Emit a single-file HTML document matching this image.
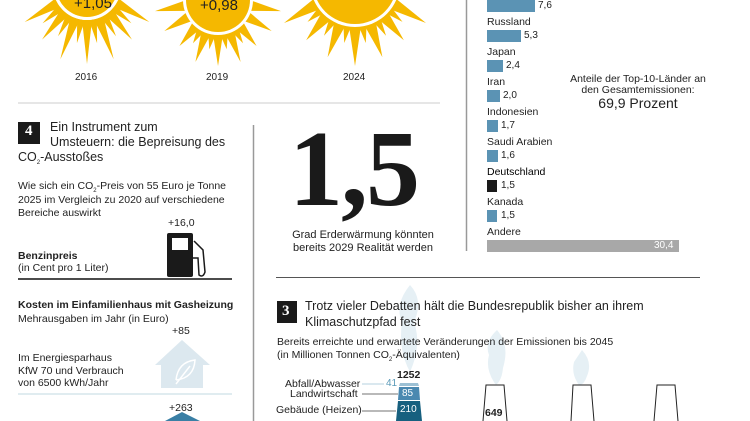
<!DOCTYPE html>
<html><head><meta charset="utf-8"><style>
body{margin:0;width:750px;height:421px;overflow:hidden;background:#fff;font-family:"Liberation Sans",sans-serif;color:#222;position:relative}
.t{position:absolute;white-space:nowrap;line-height:1}
.s{font-size:6px;position:relative;top:3px;line-height:0}
</style></head><body>
<svg width="750" height="421" style="position:absolute;left:0;top:0">
<g transform="translate(87,-14)">
<g fill="#f5b800">
<polygon points="-5,34 5,34 0,78"/><polygon points="-5,34 5,34 0,78" transform="rotate(20)"/><polygon points="-5,34 5,34 0,78" transform="rotate(-20)"/><polygon points="-5,34 5,34 0,70" transform="rotate(40)"/><polygon points="-5,34 5,34 0,70" transform="rotate(-40)"/><polygon points="-5,34 5,34 0,72" transform="rotate(60)"/><polygon points="-5,34 5,34 0,72" transform="rotate(-60)"/><polygon points="-5,34 5,34 0,64" transform="rotate(80)"/><polygon points="-5,34 5,34 0,64" transform="rotate(-80)"/><polygon points="-4,34 4,34 0,58" transform="rotate(10)"/><polygon points="-4,34 4,34 0,58" transform="rotate(-10)"/><polygon points="-4,34 4,34 0,58" transform="rotate(30)"/><polygon points="-4,34 4,34 0,58" transform="rotate(-30)"/><polygon points="-4,34 4,34 0,58" transform="rotate(50)"/><polygon points="-4,34 4,34 0,58" transform="rotate(-50)"/></g>
<circle r="34" fill="#fff"/><circle r="31" fill="#f5b800"/></g>
<g transform="translate(218,0)">
<g fill="#f5b800">
<polygon points="-5,34 5,34 0,66"/><polygon points="-5,34 5,34 0,66" transform="rotate(20)"/><polygon points="-5,34 5,34 0,66" transform="rotate(-20)"/><polygon points="-5,34 5,34 0,60" transform="rotate(40)"/><polygon points="-5,34 5,34 0,60" transform="rotate(-40)"/><polygon points="-5,34 5,34 0,62" transform="rotate(60)"/><polygon points="-5,34 5,34 0,62" transform="rotate(-60)"/><polygon points="-5,34 5,34 0,64" transform="rotate(80)"/><polygon points="-5,34 5,34 0,64" transform="rotate(-80)"/><polygon points="-4,34 4,34 0,50" transform="rotate(10)"/><polygon points="-4,34 4,34 0,50" transform="rotate(-10)"/><polygon points="-4,34 4,34 0,50" transform="rotate(30)"/><polygon points="-4,34 4,34 0,50" transform="rotate(-30)"/></g>
<circle r="35" fill="#fff"/><circle r="32" fill="#f5b800"/></g>
<g transform="translate(355,-18)">
<g fill="#f5b800">
<polygon points="-6,44 6,44 0,84"/><polygon points="-6,44 6,44 0,80" transform="rotate(20)"/><polygon points="-6,44 6,44 0,80" transform="rotate(-20)"/><polygon points="-6,44 6,44 0,76" transform="rotate(40)"/><polygon points="-6,44 6,44 0,76" transform="rotate(-40)"/><polygon points="-6,44 6,44 0,82" transform="rotate(60)"/><polygon points="-6,44 6,44 0,82" transform="rotate(-60)"/><polygon points="-6,44 6,44 0,74" transform="rotate(80)"/><polygon points="-6,44 6,44 0,74" transform="rotate(-80)"/><polygon points="-4,44 4,44 0,62" transform="rotate(10)"/><polygon points="-4,44 4,44 0,62" transform="rotate(-10)"/><polygon points="-4,44 4,44 0,62" transform="rotate(30)"/><polygon points="-4,44 4,44 0,62" transform="rotate(-30)"/><polygon points="-4,44 4,44 0,62" transform="rotate(50)"/><polygon points="-4,44 4,44 0,62" transform="rotate(-50)"/></g>
<circle r="45" fill="#fff"/><circle r="42" fill="#f5b800"/></g>
<line x1="18" y1="103" x2="440" y2="103" stroke="#ddd" stroke-width="1.5"/>
<line x1="466.5" y1="0" x2="466.5" y2="251" stroke="#999" stroke-width="1.5"/>
<line x1="253.5" y1="125" x2="253.5" y2="421" stroke="#999" stroke-width="1.5"/>
<line x1="276" y1="277.5" x2="700" y2="277.5" stroke="#555" stroke-width="1"/>
<line x1="18" y1="279" x2="232" y2="279" stroke="#111" stroke-width="1.5"/>
<line x1="18" y1="394" x2="232" y2="394" stroke="#d5e5ec" stroke-width="1.5"/>
<g fill="#5b93b4">
<rect x="487" y="0" width="48" height="12"/>
<rect x="487" y="30" width="34" height="12"/>
<rect x="487" y="60" width="16" height="12"/>
<rect x="487" y="90" width="13" height="12"/>
<rect x="487" y="120" width="11" height="12"/>
<rect x="487" y="150" width="11" height="12"/>
<rect x="487" y="210" width="10" height="12"/></g>
<rect x="487" y="180" width="10" height="12" fill="#1a1a1a"/>
<rect x="487" y="240" width="192" height="12" fill="#a8a8a8"/>
<rect x="167" y="233" width="26" height="44" rx="2" fill="#1a1a1a"/>
<rect x="172" y="238" width="16" height="12" fill="#fff"/>
<path d="M194 241 L203 250 L205 272 Q203 278 199 275 L198 258 L193 258" fill="none" stroke="#1a1a1a" stroke-width="1.5"/>
<path d="M155 365 L182 340 L210 365 L203 365 L203 388 L161 388 L161 365 Z" fill="#dce8ef"/>
<path d="M176 380 Q178 362 195 360 Q194 378 176 380 M176 384 L190 366" fill="none" stroke="#fff" stroke-width="1.5"/>
<path d="M165 421 L182 412 L200 421 Z" fill="#3a7fa5"/>
<rect x="18" y="122" width="22" height="22" fill="#1a1a1a"/>
<rect x="277" y="301" width="20" height="22" fill="#1a1a1a"/>
<g fill="#e6f0f5">
<path d="M410 285 Q424 300 414 322 Q422 345 410 372 Q398 350 402 322 Q394 305 410 285Z"/>
<path d="M497 330 Q510 345 503 368 Q502 380 496 385 Q485 370 489 355 Q484 342 497 330Z"/>
<path d="M582 350 Q593 362 587 376 Q584 385 579 385 Q571 374 574 362Z"/>
</g>
<g fill="none" stroke="#222" stroke-width="1">
<path d="M483 421 L486 385 L504 385 L507 421"/>
<path d="M571 421 L573 385 L591 385 L594 421"/>
<path d="M654 421 L657 385 L675 385 L678 421"/></g>
<path d="M400 383 L418 383 L419 386 L399 386Z" fill="#9cc0d4"/>
<path d="M399 387 L419 387 L420 400 L398 400Z" fill="#4a88b0"/>
<path d="M398 401 L420 401 L422 421 L396 421Z" fill="#17607f"/>
<g stroke="#444" stroke-width="0.8">
<line x1="362" y1="384" x2="384" y2="384" stroke="#9cc0d4"/>
<line x1="362" y1="394" x2="398" y2="394"/>
<line x1="362" y1="411" x2="396" y2="411"/></g>
</svg>
<div class="t" style="left:74px;top:-4px;font-size:15px">+1,05</div>
<div class="t" style="left:200px;top:-2px;font-size:15px">+0,98</div>
<div class="t" style="left:75px;top:73px;font-size:10px">2016</div>
<div class="t" style="left:206px;top:73px;font-size:10px">2019</div>
<div class="t" style="left:343px;top:73px;font-size:10px">2024</div>
<div class="t" style="left:538px;top:1px;font-size:10px">7,6</div>
<div class="t" style="left:487px;top:17px;font-size:10.5px">Russland</div>
<div class="t" style="left:524px;top:31px;font-size:10px">5,3</div>
<div class="t" style="left:487px;top:47px;font-size:10.5px">Japan</div>
<div class="t" style="left:506px;top:61px;font-size:10px">2,4</div>
<div class="t" style="left:487px;top:77px;font-size:10.5px">Iran</div>
<div class="t" style="left:503px;top:91px;font-size:10px">2,0</div>
<div class="t" style="left:487px;top:107px;font-size:10.5px">Indonesien</div>
<div class="t" style="left:501px;top:121px;font-size:10px">1,7</div>
<div class="t" style="left:487px;top:137px;font-size:10.5px">Saudi Arabien</div>
<div class="t" style="left:501px;top:151px;font-size:10px">1,6</div>
<div class="t" style="left:487px;top:167px;font-size:10.5px;color:#000">Deutschland</div>
<div class="t" style="left:501px;top:181px;font-size:10px">1,5</div>
<div class="t" style="left:487px;top:197px;font-size:10.5px">Kanada</div>
<div class="t" style="left:501px;top:211px;font-size:10px">1,5</div>
<div class="t" style="left:487px;top:227px;font-size:10.5px">Andere</div>
<div class="t" style="left:654px;top:241px;font-size:10px;color:#fff">30,4</div>
<div class="t" style="left:563px;top:74px;font-size:10.5px;text-align:center;width:150px;line-height:11px;white-space:normal">Anteile der Top-10-Länder an den Gesamtemissionen:<br><span style="font-size:14px;line-height:15px">69,9 Prozent</span></div>
<div class="t" style="left:289px;top:116px;font-family:'Liberation Serif',serif;font-weight:bold;font-size:108px;letter-spacing:-2px;color:#1a1a1a">1,5</div>
<div class="t" style="left:278px;top:229px;width:170px;text-align:center;font-size:11px;line-height:13px">Grad Erderwärmung könnten<br>bereits 2029 Realität werden</div>
<div class="t" style="left:25px;top:124px;font-family:'Liberation Serif',serif;font-weight:bold;font-size:15px;color:#fff">4</div>
<div class="t" style="left:50px;top:120px;font-size:12.5px;line-height:15px">Ein Instrument zum<br>Umsteuern: die Bepreisung des</div>
<div class="t" style="left:18px;top:151px;font-size:12.5px">CO<span class="s">2</span>-Ausstoßes</div>
<div class="t" style="left:18px;top:180px;font-size:10.5px;line-height:13.5px">Wie sich ein CO<span class="s">2</span>-Preis von 55 Euro je Tonne<br>2025 im Vergleich zu 2020 auf verschiedene<br>Bereiche auswirkt</div>
<div class="t" style="left:168px;top:218px;font-size:10.5px">+16,0</div>
<div class="t" style="left:18px;top:250px;font-size:10.5px;line-height:12px"><b>Benzinpreis</b><br>(in Cent pro 1 Liter)</div>
<div class="t" style="left:18px;top:298px;font-size:10.5px;line-height:14px"><b>Kosten im Einfamilienhaus mit Gasheizung</b><br>Mehrausgaben im Jahr (in Euro)</div>
<div class="t" style="left:172px;top:326px;font-size:10.5px">+85</div>
<div class="t" style="left:18px;top:352px;font-size:10.5px;line-height:12.5px">Im Energiesparhaus<br>KfW 70 und Verbrauch<br>von 6500 kWh/Jahr</div>
<div class="t" style="left:169px;top:403px;font-size:10.5px">+263</div>
<div class="t" style="left:282px;top:304px;font-family:'Liberation Serif',serif;font-weight:bold;font-size:15px;color:#fff">3</div>
<div class="t" style="left:305px;top:299px;font-size:12.5px;line-height:15.5px">Trotz vieler Debatten hält die Bundesrepublik bisher an ihrem<br>Klimaschutzpfad fest</div>
<div class="t" style="left:277px;top:336px;font-size:10.5px;line-height:12.5px">Bereits erreichte und erwartete Veränderungen der Emissionen bis 2045<br>(in Millionen Tonnen CO<span class="s">2</span>-Äquivalenten)</div>
<div class="t" style="left:397px;top:370px;font-size:10.5px;font-weight:bold">1252</div>
<div class="t" style="left:285px;top:379px;font-size:10.5px">Abfall/Abwasser</div>
<div class="t" style="left:386px;top:379px;font-size:10px;color:#5a9ab8">41</div>
<div class="t" style="left:290px;top:389px;font-size:10.5px">Landwirtschaft</div>
<div class="t" style="left:402px;top:389px;font-size:10px;color:#fff">85</div>
<div class="t" style="left:276px;top:405px;font-size:10.5px">Gebäude (Heizen)</div>
<div class="t" style="left:400px;top:405px;font-size:10px;color:#fff">210</div>
<div class="t" style="left:485px;top:408px;font-size:10.5px;font-weight:bold">649</div>
</body></html>
